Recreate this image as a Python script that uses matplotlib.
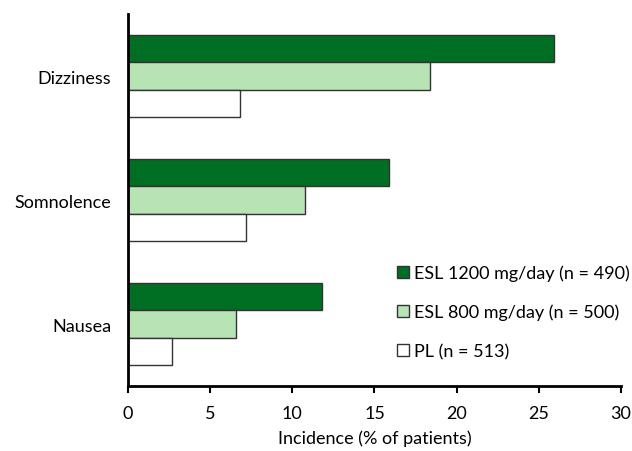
import numpy as np
import matplotlib.pyplot as plt

plt.rcParams['font.family'] = ['Lato', 'DejaVu Sans']

# Adverse events, bottom to top on the y axis
events = ["Nausea", "Somnolence", "Dizziness"]
esl1200 = [11.8, 15.9, 25.9]
esl800 = [6.6, 10.8, 18.4]
placebo = [2.7, 7.2, 6.8]
labels = ["ESL 1200 mg/day (n = 490)", "ESL 800 mg/day (n = 500)", "PL (n = 513)"]
colors = ["#006e23", "#b8e3b5", "#ffffff"]


def main():
    fig = plt.figure(figsize=(6.32, 4.52), dpi=100)
    ax = fig.add_axes([0.2025, 0.1438, 0.78, 0.823])

    y = np.arange(len(events))
    h = 0.22
    series = [esl1200, esl800, placebo]
    for i, vals in enumerate(series):
        ax.barh(y + (1 - i) * h, vals, height=h, color=colors[i],
                edgecolor="#333333", linewidth=1.0, label=labels[i])

    ax.set_xlim(0, 30)
    ax.set_ylim(-0.5, 2.5)
    ax.set_xticks(range(0, 31, 5))
    ax.set_yticks(y)
    ax.set_yticklabels(events, fontsize=13)
    ax.tick_params(axis="x", labelsize=13, length=5, width=1.5, direction="out", pad=8.5)
    ax.tick_params(axis="y", length=0, pad=12)
    ax.set_xlabel("Incidence (% of patients)", fontsize=13, labelpad=6)

    for s in ["top", "right"]:
        ax.spines[s].set_visible(False)
    for s in ["left", "bottom"]:
        ax.spines[s].set_linewidth(2)

    ax.legend(loc="center left", bbox_to_anchor=(0.546, 0.199), frameon=False,
              fontsize=13, borderpad=0, borderaxespad=0, handlelength=0.65,
              handleheight=0.65, handletextpad=0.3, labelspacing=1.25)

    fig.savefig("out.png", dpi=100)


if __name__ == '__main__':
    main()
